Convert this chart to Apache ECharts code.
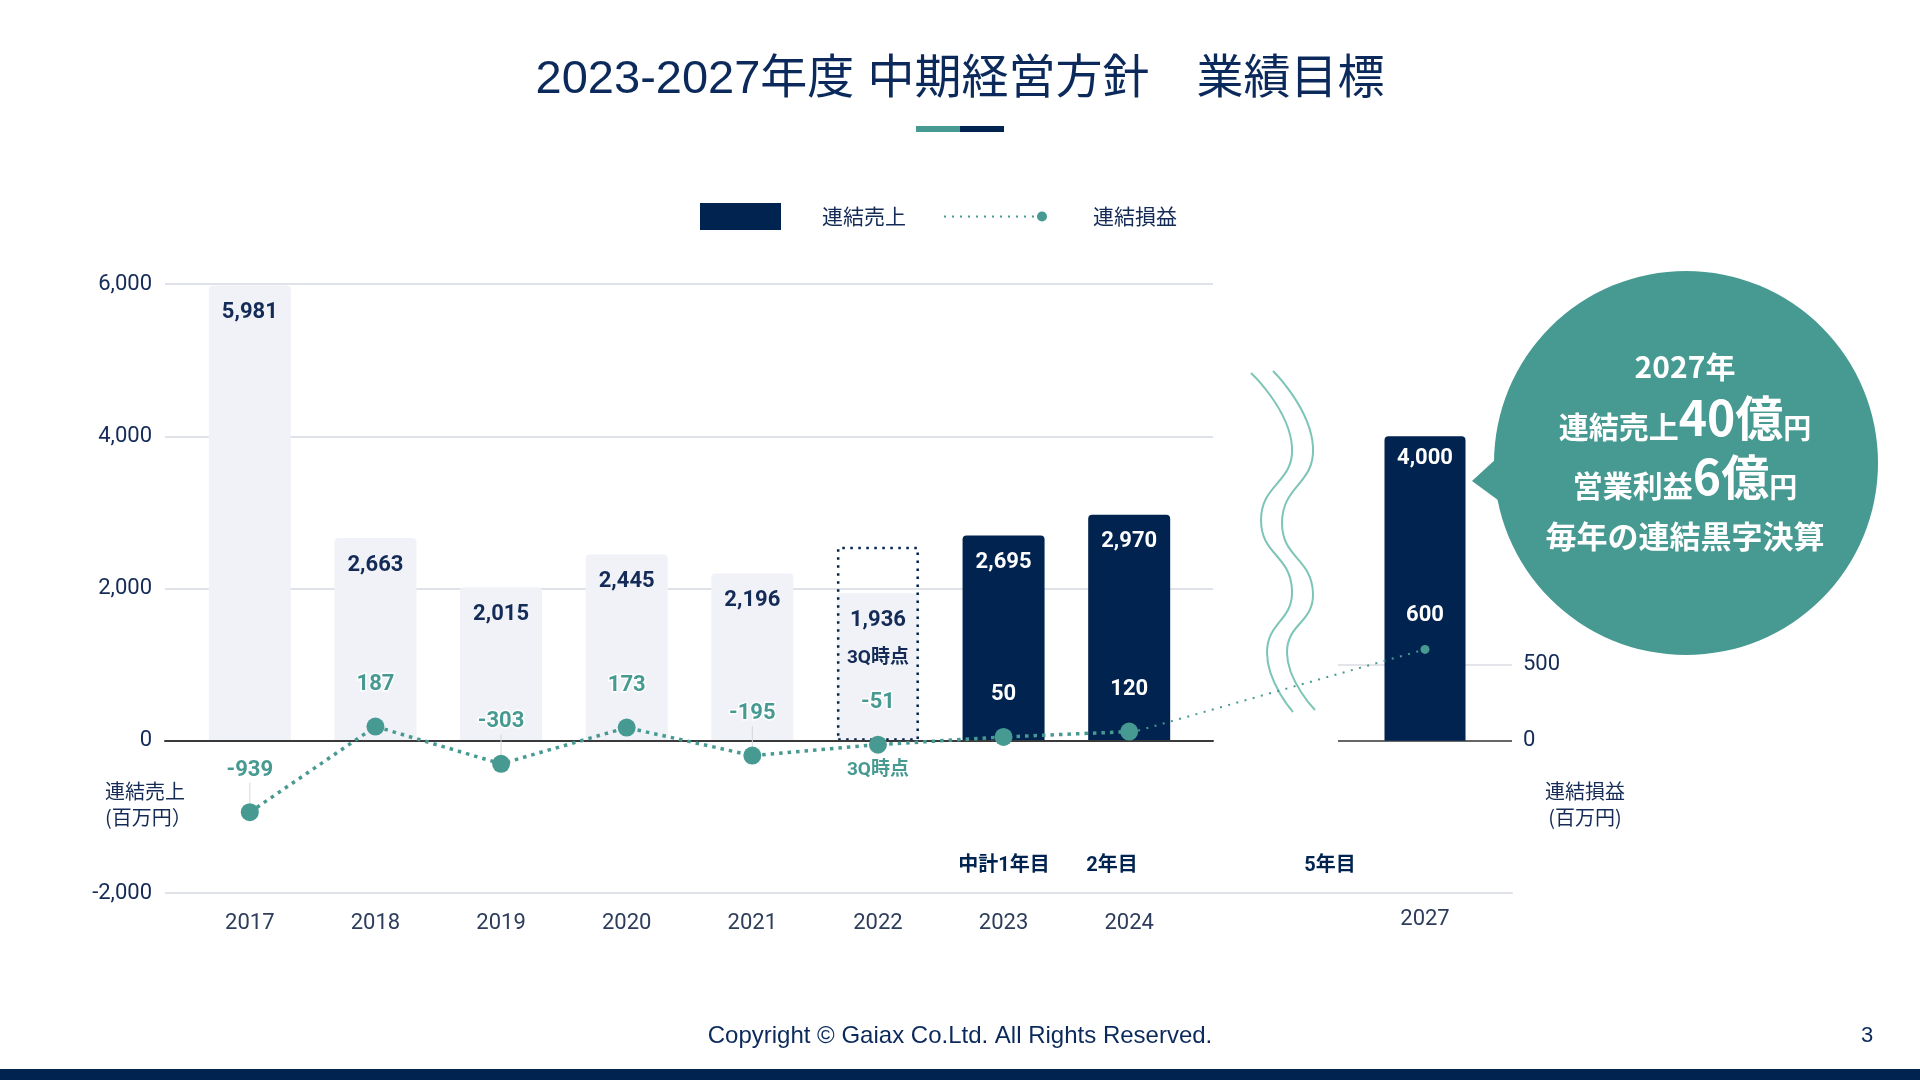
<!DOCTYPE html>
<html><head><meta charset="utf-8">
<script src="https://cdn.jsdelivr.net/npm/echarts@6/dist/echarts.min.js"></script>
<style>html,body{margin:0;padding:0;background:#fff;}#c{width:1920px;height:1080px;}</style>
</head><body><div id="c"></div>
<script>
// ---------- data ----------
const years = ['2017','2018','2019','2020','2021','2022','2023','2024'];
const sales = [5981, 2663, 2015, 2445, 2196, 1936, 2695, 2970];
const salesIsPlan = [false,false,false,false,false,false,true,true];
const salesNotes = ['','','','','','3Q時点','',''];
const salesOutlook = ['-','-','-','-','-',2550,'-','-'];
const profit = [-939, 187, -303, 173, -195, -51, 50, 120];
const profitNotes = ['','','','','','3Q時点','',''];
const profitLeader = [true,false,true,false,true,false,false,false];
const targetYear = ['2027'];
const targetSales = [4000];
const targetProfit = [600];
const salesAxisMin = -2000, salesAxisMax = 6000, salesAxisStep = 2000;
const profitAxisMin = -1000, profitAxisMax = 3000, profitAxisStep = 500;
const profitAxisShown = [0, 500];
const planLabels = ['中計1年目', '2年目', '5年目'];

// ---------- style ----------
const NAVY = '#00234F', TEAL = '#479A92', LIGHT = '#F0F2F7', GRIDC = '#DFE2E8';
const TXT = '#142B57', AXT = '#2D3D5B';
const FONT = "Roboto, 'Noto Sans CJK JP', sans-serif";
const CJK = "'Noto Sans CJK JP', sans-serif";
const fmt = v => Number(v).toLocaleString('en-US');

// split line colours for right profit axis (only 0 and 500 drawn)
const splitColors = [];
for (let v = profitAxisMin; v <= profitAxisMax; v += profitAxisStep) {
  splitColors.push(v === 0 ? '#333333' : (v === 500 ? '#DADDE3' : 'rgba(0,0,0,0)'));
}

// legend icon for line: small dots + end circle
let legendPath = 'path://';
for (let i = 0; i < 12; i++) legendPath += 'M' + (8 * i) + ',4h2v2h-2z';
legendPath += 'M93,5a5,5 0 1,0 10,0a5,5 0 1,0 -10,0z';

const chart = echarts.init(document.getElementById('c'), null, {renderer: 'canvas'});

const richBig = {
  a:{fontSize:30, fontWeight:'bold', fontFamily:CJK, fill:'#fff', verticalAlign:'bottom'},
  b:{fontSize:48, fontWeight:'bold', fontFamily:CJK, fill:'#fff', verticalAlign:'bottom'},
  c:{fontSize:28, fontWeight:'bold', fontFamily:CJK, fill:'#fff', verticalAlign:'bottom'}
};

const baseGraphics = [
  {type:'text', id:'title', x:960, y:80, style:{text:'2023-2027年度 中期経営方針　業績目標', fontSize:47, fontFamily:"'Liberation Sans', 'Noto Sans CJK JP', sans-serif", fill:'#0B2A5B', align:'center', verticalAlign:'middle'}},
  {type:'rect', id:'acc1', shape:{x:916, y:126, width:44, height:6}, style:{fill:TEAL}},
  {type:'rect', id:'acc2', shape:{x:960, y:126, width:44, height:6}, style:{fill:NAVY}},
  {type:'text', id:'lu1', x:105, y:791, style:{text:'連結売上', fontSize:20, fontFamily:CJK, fill:TXT, align:'left', verticalAlign:'middle'}},
  {type:'text', id:'lu2', x:105, y:817, style:{text:'(百万円）', fontSize:20, fontFamily:CJK, fill:TXT, align:'left', verticalAlign:'middle'}},
  {type:'text', id:'ru1', x:1585, y:791, style:{text:'連結損益', fontSize:20, fontFamily:CJK, fill:TXT, align:'center', verticalAlign:'middle'}},
  {type:'text', id:'ru2', x:1585, y:817, style:{text:'(百万円)', fontSize:20, fontFamily:CJK, fill:TXT, align:'center', verticalAlign:'middle'}},
  {type:'text', id:'pl1', x:1004, y:866, style:{text:planLabels[0], fontSize:20, fontWeight:'bold', fontFamily:FONT, fill:NAVY, align:'center', verticalAlign:'middle'}},
  {type:'text', id:'pl2', x:1112, y:866, style:{text:planLabels[1], fontSize:20, fontWeight:'bold', fontFamily:FONT, fill:NAVY, align:'center', verticalAlign:'middle'}},
  {type:'text', id:'pl3', x:1330, y:866, style:{text:planLabels[2], fontSize:20, fontWeight:'bold', fontFamily:FONT, fill:NAVY, align:'center', verticalAlign:'middle'}},
  {type:'polyline', id:'wave1', shape:{points:[[1251,373],[1292,447],[1261,520],[1292,590],[1267,653],[1293,712]], smooth:0.5}, style:{stroke:'#7DC5B6', lineWidth:2, fill:null}},
  {type:'polyline', id:'wave2', shape:{points:[[1273,371],[1313,447],[1282,523],[1313,593],[1287,653],[1315,710]], smooth:0.5}, style:{stroke:'#7DC5B6', lineWidth:2, fill:null}},
  {type:'circle', id:'bub', shape:{cx:1686, cy:463, r:192}, style:{fill:TEAL}},
  {type:'polygon', id:'bubtip', shape:{points:[[1472,481],[1497,458],[1502,503]]}, style:{fill:TEAL}},
  {type:'text', id:'b1', x:1685, y:367, style:{text:'2027年', fontSize:30, fontWeight:'bold', fontFamily:CJK, fill:'#fff', align:'center', verticalAlign:'middle'}},
  {type:'text', id:'b2', x:1685, y:418, style:{text:'{a|連結売上}{b|40億}{c|円}', fill:'#fff', align:'center', verticalAlign:'middle', rich:richBig}},
  {type:'text', id:'b3', x:1685, y:477, style:{text:'{a|営業利益}{b|6億}{c|円}', fill:'#fff', align:'center', verticalAlign:'middle', rich:richBig}},
  {type:'text', id:'b4', x:1685, y:536, style:{text:'毎年の連結黒字決算', fontSize:31, fontWeight:'bold', fontFamily:CJK, fill:'#fff', align:'center', verticalAlign:'middle'}},
  {type:'text', id:'foot', x:960, y:1036, style:{text:'Copyright © Gaiax Co.Ltd. All Rights Reserved.', fontSize:24, fontFamily:"'Liberation Sans', sans-serif", fill:'#0B2A5B', align:'center', verticalAlign:'middle'}},
  {type:'text', id:'page', x:1867, y:1036, style:{text:'3', fontSize:22, fontFamily:"'Liberation Sans', sans-serif", fill:'#0B2A5B', align:'center', verticalAlign:'middle'}},
  {type:'rect', id:'footbar', shape:{x:0, y:1069, width:1920, height:11}, style:{fill:NAVY}}
];

const option = {
  animation: false,
  backgroundColor: '#fff',
  textStyle: {fontFamily: FONT},
  legend: [
    {data:['連結売上'], left:695, top:198, icon:'rect', itemWidth:81, itemHeight:27, selectedMode:false,
     textStyle:{fontSize:21, color:TXT, fontFamily:CJK, padding:[0,0,0,36]}},
    {data:['連結損益'], left:939, top:201, icon:legendPath, itemWidth:103, itemHeight:10, selectedMode:false,
     textStyle:{fontSize:21, color:TXT, fontFamily:CJK, padding:[0,0,0,41]}}
  ],
  grid: [
    {left:165, width:1048, top:284, height:609},
    {left:187, width:1005, top:284, height:609},
    {left:1338, width:174, top:284, height:609},
    {left:1213, width:125, top:284, height:609}
  ],
  xAxis: [
    {gridIndex:0, type:'category', data:years, z:3, axisLine:{onZero:true, lineStyle:{color:'#3A3A3A', width:2}}, axisTick:{show:false}, axisLabel:{show:false}},
    {gridIndex:1, type:'category', data:years, position:'bottom', axisLine:{show:false, onZero:false}, axisTick:{show:false},
     axisLabel:{color:AXT, fontSize:22, margin:19, fontFamily:FONT}},
    {gridIndex:2, type:'category', data:targetYear, position:'bottom', axisLine:{onZero:false, lineStyle:{color:GRIDC, width:2}}, axisTick:{show:false},
     axisLabel:{color:AXT, fontSize:22, margin:15, fontFamily:FONT}},
    {gridIndex:3, type:'category', data:[''], position:'bottom', axisLine:{onZero:false, lineStyle:{color:GRIDC, width:2}}, axisTick:{show:false}, axisLabel:{show:false}}
  ],
  yAxis: [
    {gridIndex:0, type:'value', min:salesAxisMin, max:salesAxisMax, interval:salesAxisStep,
     axisLabel:{formatter:v => fmt(v), color:TXT, fontSize:22, margin:13, fontFamily:FONT},
     splitLine:{lineStyle:{color:GRIDC, width:2}}, axisLine:{show:false}, axisTick:{show:false}},
    {gridIndex:1, type:'value', min:salesAxisMin, max:salesAxisMax, interval:salesAxisStep, show:false},
    {gridIndex:2, type:'value', min:salesAxisMin, max:salesAxisMax, interval:salesAxisStep, show:false},
    {gridIndex:2, type:'value', min:profitAxisMin, max:profitAxisMax, interval:profitAxisStep, position:'right',
     axisLabel:{formatter:v => profitAxisShown.includes(v) ? String(v) : '', color:TXT, fontSize:22, margin:11, fontFamily:FONT},
     splitLine:{show:true, lineStyle:{color:splitColors, width:1.5}}, axisLine:{show:false}, axisTick:{show:false}},
    {gridIndex:3, type:'value', min:salesAxisMin, max:salesAxisMax, show:false}
  ],
  series: [
    {
      name:'連結売上', type:'bar', xAxisIndex:1, yAxisIndex:1, barWidth:82, barGap:'-100%', z:2,
      itemStyle:{color:NAVY, borderRadius:[4,4,0,0]},
      label:{show:true, position:'insideTop', distance:15, fontSize:22, fontWeight:'bold', fontFamily:FONT, lineHeight:24,
        formatter: p => salesNotes[p.dataIndex] ? fmt(p.value) + '\n{q|' + salesNotes[p.dataIndex] + '}' : fmt(p.value),
        rich:{q:{fontSize:19, fontWeight:'bold', lineHeight:52, color:TXT, fontFamily:FONT}}},
      data: sales.map((v,i) => ({value:v, itemStyle:{color: salesIsPlan[i] ? NAVY : LIGHT}, label:{color: salesIsPlan[i] ? '#fff' : TXT}}))
    },
    {
      name:'見通し', type:'bar', xAxisIndex:1, yAxisIndex:1, barWidth:82, barGap:'-100%', z:3, silent:true,
      itemStyle:{color:'rgba(0,0,0,0)', borderColor:NAVY, borderWidth:2.5, borderType:[2.5,5.5]},
      data: salesOutlook
    },
    {
      name:'連結損益', type:'line', xAxisIndex:1, yAxisIndex:1, z:10,
      symbol:'circle', symbolSize:18,
      itemStyle:{color:TEAL},
      lineStyle:{color:TEAL, width:3.5, type:[3.5,5]},
      label:{show:true, position:'top', distance:22, fontSize:22, fontWeight:'bold', fontFamily:FONT, color:TEAL,
        textBorderColor:'#fff', textBorderWidth:3, formatter:p => fmt(p.value)},
      data: profit.map((v,i) => salesIsPlan[i]
        ? {value:v, label:{color:'#fff', textBorderWidth:0}}
        : (profitLeader[i] ? {value:v, labelLine:{show:true, lineStyle:{color:'#D3D6DC', width:1}}} : v)),
      markPoint:{
        symbol:'circle', symbolSize:1, itemStyle:{color:'rgba(0,0,0,0)'}, silent:true,
        label:{show:true, position:'bottom', distance:16, formatter:'{b}', fontSize:19, fontWeight:'bold', fontFamily:FONT,
          color:TEAL, textBorderColor:'#fff', textBorderWidth:3},
        data: profitNotes.map((n,i) => n ? {name:n, coord:[years[i], profit[i]]} : null).filter(Boolean)
      }
    },
    {
      name:'連結売上', type:'bar', xAxisIndex:2, yAxisIndex:2, barWidth:81, z:2,
      itemStyle:{color:NAVY, borderRadius:[4,4,0,0]},
      label:{show:true, position:'insideTop', distance:11, fontSize:22, fontWeight:'bold', fontFamily:FONT, color:'#fff', formatter:p => fmt(p.value)},
      data: targetSales
    },
    {
      name:'連結損益', type:'line', xAxisIndex:2, yAxisIndex:3, z:10,
      symbol:'circle', symbolSize:9, itemStyle:{color:TEAL},
      label:{show:true, position:'top', distance:18, fontSize:22, fontWeight:'bold', fontFamily:FONT, color:'#fff', formatter:p => fmt(p.value)},
      data: targetProfit
    }
  ],
  graphic: baseGraphics
};

chart.setOption(option);

// connector from last plan-year profit point to the 2027 target point, through the library's scales
const pA = chart.convertToPixel({xAxisIndex:1, yAxisIndex:1}, [years[years.length-1], profit[profit.length-1]]);
const pB = chart.convertToPixel({xAxisIndex:2, yAxisIndex:3}, [targetYear[0], targetProfit[0]]);
option.graphic = baseGraphics.concat([
  {type:'line', id:'connector', z:20, shape:{x1:pA[0]+9, y1:pA[1]-1, x2:pB[0], y2:pB[1]},
   style:{stroke:TEAL, lineWidth:2, lineDash:[2,6.5]}}
]);
chart.setOption(option, true);
</script></body></html>
